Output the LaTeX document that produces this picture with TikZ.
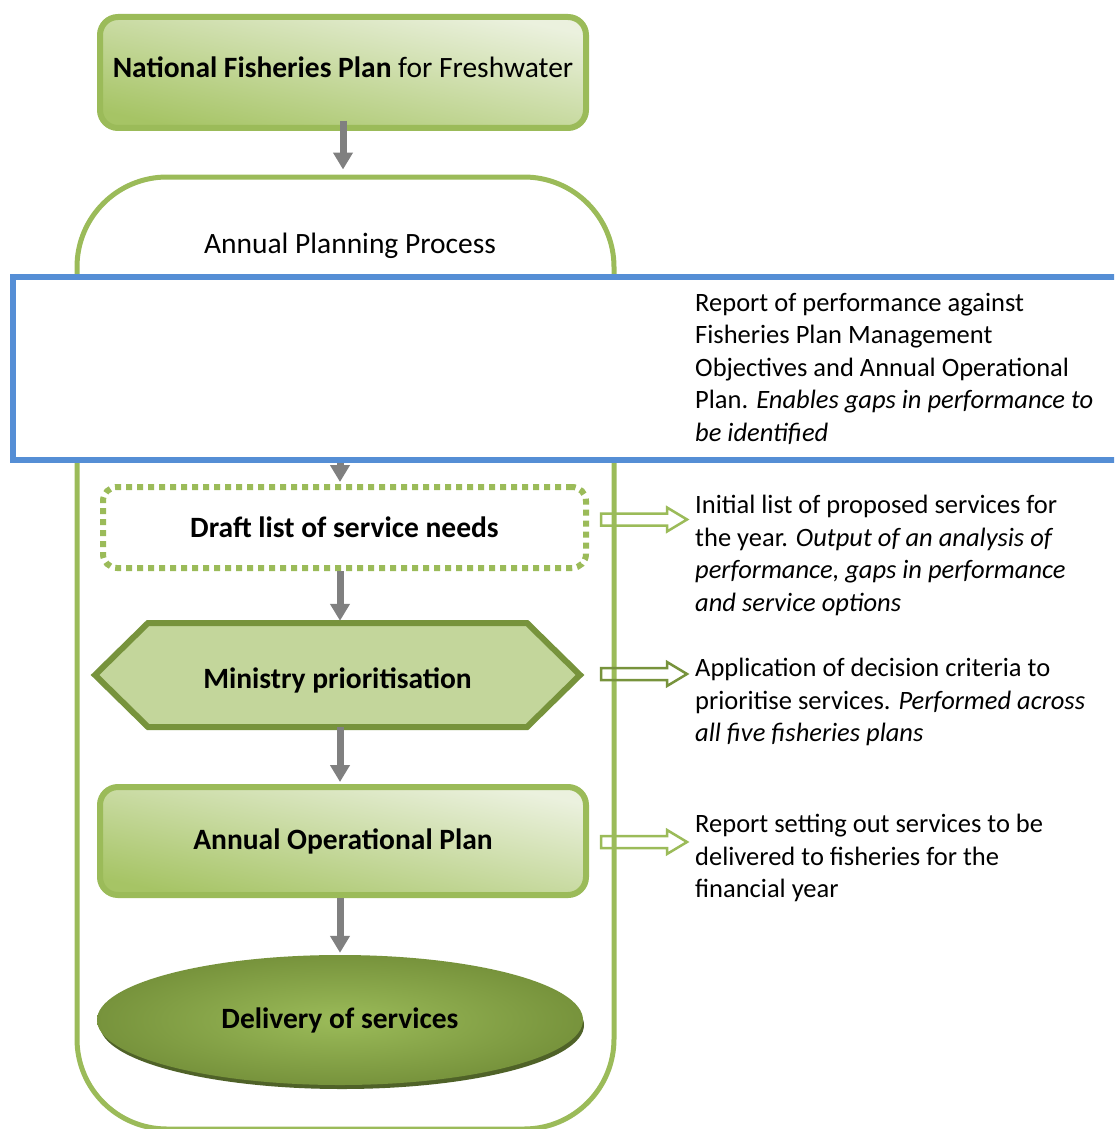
\documentclass[tikz,border=0pt]{standalone}
\usepackage{fontspec}
\setmainfont{Carlito}
\usetikzlibrary{arrows.meta,shapes.geometric,positioning}

\definecolor{leafgreen}{HTML}{9BBB59}
\definecolor{leaflight}{HTML}{EBF1DE}
\definecolor{leafmid}{HTML}{A6C465}
\definecolor{olivegreen}{HTML}{77933C}
\definecolor{olivedark}{HTML}{4F6228}
\definecolor{sage}{HTML}{C3D69B}
\definecolor{skyline}{HTML}{558ED5}
\definecolor{flowgray}{HTML}{808080}

% hollow block arrow pointing at a note: #1 = y of its middle, #2 = colour
\newcommand{\hollowarrow}[2]{%
  \draw[#2, line width=2.5, line join=miter]
    (601,#1-6) -- (667,#1-6) -- (667,#1-12) -- (687,#1) -- (667,#1+12) -- (667,#1+6) -- (601,#1+6) -- cycle;}

\begin{document}
\begin{tikzpicture}[x=1pt, y=-1pt,
    txt/.style = {font=\fontsize{26.5}{32.5}\selectfont},
    boxtxt/.style = {font=\fontsize{29.5}{35}\selectfont},
    boldtxt/.style = {font=\fontsize{29.5}{35}\selectfont\bfseries},
    planbox/.style = {draw=leafgreen, line width=6, rounded corners=18, top color=leaflight, bottom color=leafmid, shading angle=-12, minimum width=486},
    draftbox/.style = {draw=leafgreen, line width=6, dash pattern=on 6pt off 5pt, rounded corners=14, fill=white, minimum width=483, minimum height=81},
    flow/.style = {draw=flowgray, line width=7, -{Triangle[width=19pt,length=17pt]}},
    note/.style = {txt, anchor=north west, align=left, inner sep=0}]
        \useasboundingbox (0,0) rectangle (1114,1129);
        \clip (0,0) rectangle (1114,1129);
        \coordinate (spine) at (340,0);
        %
        \node[planbox, boxtxt, minimum height=111] (nfp) at (343,72.5) {\raisebox{-5pt}[0pt][0pt]{\textbf{National Fisheries Plan} for Freshwater}};
        \node[draw=leafgreen, line width=5, fill=white, rounded corners=90, minimum width=537, minimum height=952] (proc) at (345.5,653) {};
        \node[boxtxt] (proctitle) at (350,246) {Annual Planning Process};
        \node[draw=skyline, line width=6, fill=white, minimum width=1117, minimum height=183] (report) at (571.5,368.5) {};
        \node[draftbox, boldtxt] (draft) at (344.5,527.5) {Draft list of service needs};
        \filldraw[fill=sage, draw=olivegreen, line width=6] (95,675) -- (148,623) -- (527,623) -- (580,675) -- (527,727) -- (148,727) -- cycle;
        \node[boldtxt, minimum width=485, minimum height=104] (prio) at (337.5,675) {\raisebox{-13pt}[0pt][0pt]{Ministry prioritisation}};
        \node[planbox, boldtxt, minimum height=108] (aop) at (343,841) {Annual Operational Plan};
        \fill[olivedark] (342,1025) ellipse [x radius=242, y radius=64];
        \node[ellipse, boldtxt, inner color=leafgreen, outer color=olivegreen, minimum width=486, minimum height=130] (deliv) at (340,1020) {Delivery of services};
        %
        \draw[flow, shorten >=5pt] ([yshift=10pt]nfp.south) -- (nfp.south |- proc.north);
        \draw[flow, shorten >=2pt] (spine |- report.south) -- (spine |- draft.north);
        \draw[flow, shorten >=2pt] (spine |- draft.south) -- (spine |- prio.north);
        \draw[flow, shorten >=2pt] (spine |- prio.south) -- (spine |- aop.north);
        \draw[flow, shorten >=2pt] (spine |- aop.south) -- (spine |- deliv.north);
        %
        \node[note] (reportnote) at (695,293) {Report of performance against\\Fisheries Plan Management\\Objectives and Annual Operational\\Plan. \textit{Enables gaps in performance to}\\\textit{be identified}};
        \hollowarrow{519.5}{leafgreen}
        \node[note] (draftnote) at (695,495) {Initial list of proposed services for\\the year. \textit{Output of an analysis of}\\\textit{performance, gaps in performance}\\\textit{and service options}};
        \hollowarrow{674}{olivegreen}
        \node[note] (prionote) at (695,658) {Application of decision criteria to\\prioritise services. \textit{Performed across}\\\textit{all five fisheries plans}};
        \hollowarrow{842}{leafgreen}
        \node[note] (aopnote) at (695,814) {Report setting out services to be\\delivered to fisheries for the\\financial year};
\end{tikzpicture}
\end{document}
